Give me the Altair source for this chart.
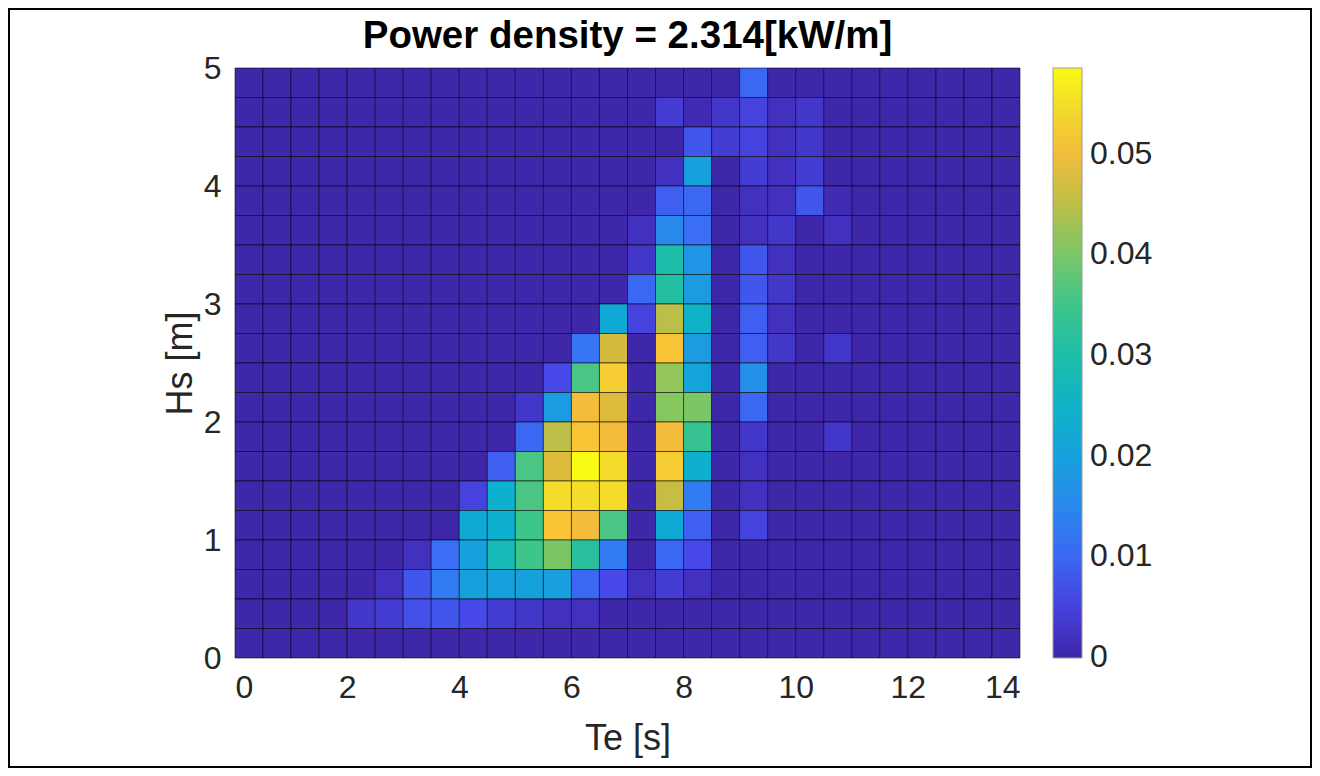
import altair as alt
import pandas as pd

# Cell edges (Te in s, Hs in m)
te_edges = [0.0, 0.5, 1.0, 1.5, 2.0, 2.5, 3.0, 3.5, 4.0, 4.5, 5.0, 5.5, 6.0, 6.5, 7.0,
            7.5, 8.0, 8.5, 9.0, 9.5, 10.0, 10.5, 11.0, 11.5, 12.0, 12.5, 13.0, 13.5, 14.0]
hs_edges = [0.0, 0.25, 0.5, 0.75, 1.0, 1.25, 1.5, 1.75, 2.0, 2.25, 2.5,
            2.75, 3.0, 3.25, 3.5, 3.75, 4.0, 4.25, 4.5, 4.75, 5.0]

# Power density per cell, in thousandths of kW/m; rows from Hs=4.75-5.0 (top) down to 0-0.25
hs_475 = [0, 0, 0, 0, 0, 0, 0, 0, 0, 0, 0, 0, 0, 0, 0, 0, 0, 0, 10, 0, 0, 0, 0, 0, 0, 0, 0, 0]
hs_450 = [0, 0, 0, 0, 0, 0, 0, 0, 0, 0, 0, 0, 0, 0, 0, 4, 1, 3, 5, 2, 3, 0, 0, 0, 0, 0, 0, 0]
hs_425 = [0, 0, 0, 0, 0, 0, 0, 0, 0, 0, 0, 0, 0, 0, 0, 0, 8, 4, 5, 2, 3, 0, 0, 0, 0, 0, 0, 0]
hs_400 = [0, 0, 0, 0, 0, 0, 0, 0, 0, 0, 0, 0, 0, 0, 0, 2, 20, 0, 4, 2, 4, 0, 0, 0, 0, 0, 0, 0]
hs_375 = [0, 0, 0, 0, 0, 0, 0, 0, 0, 0, 0, 0, 0, 0, 0, 9, 10, 0, 2, 2, 8, 1, 0, 0, 0, 0, 0, 0]
hs_350 = [0, 0, 0, 0, 0, 0, 0, 0, 0, 0, 0, 0, 0, 0, 2, 15, 11, 0, 2, 3, 0, 2, 0, 0, 0, 0, 0, 0]
hs_325 = [0, 0, 0, 0, 0, 0, 0, 0, 0, 0, 0, 0, 0, 0, 3, 30, 17, 0, 8, 2, 0, 0, 0, 0, 0, 0, 0, 0]
hs_300 = [0, 0, 0, 0, 0, 0, 0, 0, 0, 0, 0, 0, 0, 0, 10, 31, 18, 0, 8, 3, 0, 0, 0, 0, 0, 0, 0, 0]
hs_275 = [0, 0, 0, 0, 0, 0, 0, 0, 0, 0, 0, 0, 0, 22, 5, 45, 25, 0, 9, 2, 0, 0, 0, 0, 0, 0, 0, 0]
hs_250 = [0, 0, 0, 0, 0, 0, 0, 0, 0, 0, 0, 0, 12, 47, 0, 52, 18, 0, 9, 3, 0, 3, 0, 0, 0, 0, 0, 0]
hs_225 = [0, 0, 0, 0, 0, 0, 0, 0, 0, 0, 0, 6, 36, 53, 0, 42, 21, 0, 16, 0, 0, 0, 0, 0, 0, 0, 0, 0]
hs_200 = [0, 0, 0, 0, 0, 0, 0, 0, 0, 0, 3, 18, 50, 48, 0, 41, 40, 0, 10, 0, 0, 0, 0, 0, 0, 0, 0, 0]
hs_175 = [0, 0, 0, 0, 0, 0, 0, 0, 0, 0, 10, 45, 52, 50, 0, 50, 34, 0, 3, 0, 0, 3, 0, 0, 0, 0, 0, 0]
hs_150 = [0, 0, 0, 0, 0, 0, 0, 0, 0, 9, 36, 48, 58.5, 55, 0, 53, 24, 0, 2, 0, 0, 0, 0, 0, 0, 0, 0, 0]
hs_125 = [0, 0, 0, 0, 0, 0, 0, 0, 5, 24, 36, 55, 55, 55, 0, 46, 13, 0, 2, 0, 0, 0, 0, 0, 0, 0, 0, 0]
hs_100 = [0, 0, 0, 0, 0, 0, 0, 0, 22, 24, 35, 52, 50, 36, 0, 22, 9, 0, 5, 0, 0, 0, 0, 0, 0, 0, 0, 0]
hs_075 = [0, 0, 0, 0, 0, 0, 2, 11, 20, 28, 35, 40, 32, 13, 0, 10, 6, 0, 0, 0, 0, 0, 0, 0, 0, 0, 0, 0]
hs_050 = [0, 0, 0, 0, 0, 2, 8, 13, 20, 20, 20, 19, 10, 6, 2, 4, 2, 0, 0, 0, 0, 0, 0, 0, 0, 0, 0, 0]
hs_025 = [0, 0, 0, 0, 3, 4, 7, 8, 6, 4, 3, 2, 2, 0, 0, 0, 0, 0, 0, 0, 0, 0, 0, 0, 0, 0, 0, 0]
hs_000 = [0, 0, 0, 0, 0, 0, 0, 0, 0, 0, 0, 0, 0, 0, 0, 0, 0, 0, 0, 0, 0, 0, 0, 0, 0, 0, 0, 0]

rows_top_down = [hs_475, hs_450, hs_425, hs_400, hs_375, hs_350, hs_325, hs_300, hs_275, hs_250,
                 hs_225, hs_200, hs_175, hs_150, hs_125, hs_100, hs_075, hs_050, hs_025, hs_000]

x_ticks = [0, 2, 4, 6, 8, 10, 12, 14]
y_ticks = [0, 1, 2, 3, 4, 5]
cbar_ticks = [0, 0.01, 0.02, 0.03, 0.04, 0.05]

# parula-like colour stops (fractions of the colour range)
parula_pos = [0.0, 0.1, 0.2, 0.3, 0.4, 0.5, 0.6, 0.7, 0.8, 0.87, 0.93, 1.0]
parula_col = ["#3e26a8", "#4746e6", "#3773f7", "#1e98e4", "#0caed2", "#19bcae",
              "#3ec58a", "#86c761", "#d2bb3c", "#fcbc3b", "#f2d82e", "#f9fb14"]

records = []
n_rows = len(rows_top_down)
for ri, row in enumerate(rows_top_down):
    yi = n_rows - 1 - ri
    for ci, v in enumerate(row):
        records.append({
            "te0": te_edges[ci], "te1": te_edges[ci + 1],
            "hs0": hs_edges[yi], "hs1": hs_edges[yi + 1],
            "power": v / 1000.0,
        })
df = pd.DataFrame(records)
vmax = df["power"].max()
vlow = -0.0001  # tiny margin so the "0" colour-bar label stays centred on its value
color_domain = [vlow + p * (vmax - vlow) for p in parula_pos]

FONT = "Liberation Sans"
TXT = "#262626"
W, H = 785, 590
PAD = {"left": 227, "top": 60, "right": 292, "bottom": 110}

heat = alt.Chart(df).mark_rect(stroke="black", strokeWidth=1, strokeOpacity=0.55).encode(
    x=alt.X("te0:Q", scale=alt.Scale(domain=[0, 14], nice=False, zero=False),
            axis=alt.Axis(values=x_ticks, title="Te [s]", format="d", grid=False,
                          ticks=False, domain=False, labelPadding=14, titlePadding=18)),
    x2="te1:Q",
    y=alt.Y("hs0:Q", scale=alt.Scale(domain=[0, 5], nice=False, zero=False),
            axis=alt.Axis(values=y_ticks, title="Hs [m]", format="d", grid=False,
                          ticks=False, domain=False, labelPadding=14, titlePadding=4)),
    y2="hs1:Q",
    color=alt.Color("power:Q",
                    scale=alt.Scale(domain=color_domain, range=parula_col, interpolate="rgb"),
                    legend=alt.Legend(title=None, orient="right", direction="vertical",
                                      offset=33, padding=0, gradientLength=H,
                                      gradientThickness=29, values=cbar_ticks,
                                      labelExpr="datum.value == 0 ? '0' : format(datum.value, '.2f')",
                                      labelOverlap=False, labelOffset=8, labelBaseline="middle",
                                      labelFont=FONT, labelFontSize=32, labelColor=TXT,
                                      gradientStrokeColor="#9a9a9a", gradientStrokeWidth=1)),
)

# thin black border round the whole figure
frame = alt.Chart(pd.DataFrame({"f": [0]})).mark_rect(
    fill="transparent", stroke="black", strokeWidth=2
).encode(
    x=alt.value(-PAD["left"] + 1), x2=alt.value(W + PAD["right"] - 1),
    y=alt.value(-PAD["top"] + 1), y2=alt.value(H + PAD["bottom"] - 1),
)

chart = alt.layer(heat, frame).properties(
    width=W,
    height=H,
    title=alt.Title("Power density = 2.314[kW/m]", fontSize=38.5, fontWeight="bold",
                    font=FONT, color="#000000", anchor="middle", frame="group",
                    offset=-48),
    autosize=alt.AutoSizeParams(type="none"),
    padding=PAD,
    background="white",
).configure_axis(
    labelFont=FONT, labelFontSize=32, labelColor=TXT,
    titleFont=FONT, titleFontSize=36, titleFontWeight="normal", titleColor=TXT,
).configure_view(
    strokeWidth=0,
)

chart.save("out.html", embed_options={"renderer": "svg", "actions": False})
